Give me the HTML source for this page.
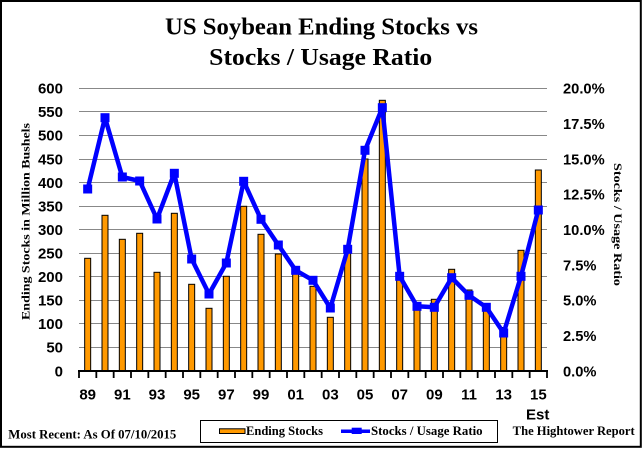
<!DOCTYPE html>
<html><head><meta charset="utf-8"><style>
html,body{margin:0;padding:0;background:#fff;}
svg{display:block;}
.t{font-family:"Liberation Serif",serif;font-weight:bold;fill:#000;}
.n{font-family:"Liberation Sans",sans-serif;font-weight:bold;fill:#000;font-size:15px;}
</style></head><body>
<svg width="644" height="450" viewBox="0 0 644 450" xmlns="http://www.w3.org/2000/svg">
<rect x="0" y="0" width="644" height="450" fill="#fff"/>
<rect x="1" y="1" width="639.8" height="445.8" fill="none" stroke="#000" stroke-width="2"/>
<text class="t" x="321.5" y="34.3" font-size="24" text-anchor="middle" textLength="313" lengthAdjust="spacingAndGlyphs">US Soybean Ending Stocks vs</text>
<text class="t" x="320.7" y="65" font-size="24" text-anchor="middle" textLength="223" lengthAdjust="spacingAndGlyphs">Stocks / Usage Ratio</text>
<g stroke="#888" stroke-width="1">
<line x1="79" x2="547" y1="88.5" y2="88.5"/><line x1="79" x2="547" y1="111.5" y2="111.5"/><line x1="79" x2="547" y1="135.5" y2="135.5"/><line x1="79" x2="547" y1="159.5" y2="159.5"/><line x1="79" x2="547" y1="182.5" y2="182.5"/><line x1="79" x2="547" y1="206.5" y2="206.5"/><line x1="79" x2="547" y1="229.5" y2="229.5"/><line x1="79" x2="547" y1="253.5" y2="253.5"/><line x1="79" x2="547" y1="276.5" y2="276.5"/><line x1="79" x2="547" y1="300.5" y2="300.5"/><line x1="79" x2="547" y1="323.5" y2="323.5"/><line x1="79" x2="547" y1="347.5" y2="347.5"/>
</g>
<g fill="#FF9900" stroke="#000" stroke-width="1">
<rect x="84.67" y="258.3" width="6" height="112.7"/>
<rect x="102" y="215.3" width="6" height="155.7"/>
<rect x="119.33" y="239.3" width="6" height="131.7"/>
<rect x="136.67" y="233.3" width="6" height="137.7"/>
<rect x="154" y="272.3" width="6" height="98.7"/>
<rect x="171.33" y="213.3" width="6" height="157.7"/>
<rect x="188.67" y="284.3" width="6" height="86.7"/>
<rect x="206" y="308.3" width="6" height="62.7"/>
<rect x="223.33" y="276.3" width="6" height="94.7"/>
<rect x="240.67" y="206.3" width="6" height="164.7"/>
<rect x="258" y="234.3" width="6" height="136.7"/>
<rect x="275.33" y="254" width="6" height="117"/>
<rect x="292.67" y="272.7" width="6" height="98.3"/>
<rect x="310" y="286.3" width="6" height="84.7"/>
<rect x="327.33" y="317.3" width="6" height="53.7"/>
<rect x="344.67" y="250.5" width="6" height="120.5"/>
<rect x="362" y="159" width="6" height="212"/>
<rect x="379.33" y="100.3" width="6" height="270.7"/>
<rect x="396.67" y="274.5" width="6" height="96.5"/>
<rect x="414" y="306" width="6" height="65"/>
<rect x="431.33" y="299.3" width="6" height="71.7"/>
<rect x="448.67" y="269.3" width="6" height="101.7"/>
<rect x="466" y="290" width="6" height="81"/>
<rect x="483.33" y="304.5" width="6" height="66.5"/>
<rect x="500.67" y="327.5" width="6" height="43.5"/>
<rect x="518" y="250.3" width="6" height="120.7"/>
<rect x="535.33" y="170" width="6" height="201"/>
</g>
<line x1="78" x2="548" y1="371" y2="371" stroke="#000" stroke-width="2"/>
<g stroke="#000" stroke-width="1.8">
<line x1="79" x2="79" y1="371" y2="378"/><line x1="96.33" x2="96.33" y1="371" y2="378"/><line x1="113.67" x2="113.67" y1="371" y2="378"/><line x1="131" x2="131" y1="371" y2="378"/><line x1="148.33" x2="148.33" y1="371" y2="378"/><line x1="165.67" x2="165.67" y1="371" y2="378"/><line x1="183" x2="183" y1="371" y2="378"/><line x1="200.33" x2="200.33" y1="371" y2="378"/><line x1="217.67" x2="217.67" y1="371" y2="378"/><line x1="235" x2="235" y1="371" y2="378"/><line x1="252.33" x2="252.33" y1="371" y2="378"/><line x1="269.67" x2="269.67" y1="371" y2="378"/><line x1="287" x2="287" y1="371" y2="378"/><line x1="304.33" x2="304.33" y1="371" y2="378"/><line x1="321.67" x2="321.67" y1="371" y2="378"/><line x1="339" x2="339" y1="371" y2="378"/><line x1="356.33" x2="356.33" y1="371" y2="378"/><line x1="373.67" x2="373.67" y1="371" y2="378"/><line x1="391" x2="391" y1="371" y2="378"/><line x1="408.33" x2="408.33" y1="371" y2="378"/><line x1="425.67" x2="425.67" y1="371" y2="378"/><line x1="443" x2="443" y1="371" y2="378"/><line x1="460.33" x2="460.33" y1="371" y2="378"/><line x1="477.67" x2="477.67" y1="371" y2="378"/><line x1="495" x2="495" y1="371" y2="378"/><line x1="512.33" x2="512.33" y1="371" y2="378"/><line x1="529.67" x2="529.67" y1="371" y2="378"/><line x1="547" x2="547" y1="371" y2="378"/>
</g>
<polyline fill="none" stroke="#0000FF" stroke-width="4.5" stroke-linejoin="round" points="87.67,189 105,117.7 122.33,177 139.67,181 157,219 174.33,173.3 191.67,259 209,294 226.33,263 243.67,181.3 261,219.3 278.33,245 295.67,270.3 313,280.3 330.33,308 347.67,249.3 365,150.3 382.33,107.7 399.67,276.3 417,306.3 434.33,307.3 451.67,277.7 469,295.3 486.33,307.3 503.67,333 521,276.3 538.33,210"/>
<g fill="#0000FF">
<rect x="83.17" y="184.5" width="9" height="9"/><rect x="100.5" y="113.2" width="9" height="9"/><rect x="117.83" y="172.5" width="9" height="9"/><rect x="135.17" y="176.5" width="9" height="9"/><rect x="152.5" y="214.5" width="9" height="9"/><rect x="169.83" y="168.8" width="9" height="9"/><rect x="187.17" y="254.5" width="9" height="9"/><rect x="204.5" y="289.5" width="9" height="9"/><rect x="221.83" y="258.5" width="9" height="9"/><rect x="239.17" y="176.8" width="9" height="9"/><rect x="256.5" y="214.8" width="9" height="9"/><rect x="273.83" y="240.5" width="9" height="9"/><rect x="291.17" y="265.8" width="9" height="9"/><rect x="308.5" y="275.8" width="9" height="9"/><rect x="325.83" y="303.5" width="9" height="9"/><rect x="343.17" y="244.8" width="9" height="9"/><rect x="360.5" y="145.8" width="9" height="9"/><rect x="377.83" y="103.2" width="9" height="9"/><rect x="395.17" y="271.8" width="9" height="9"/><rect x="412.5" y="301.8" width="9" height="9"/><rect x="429.83" y="302.8" width="9" height="9"/><rect x="447.17" y="273.2" width="9" height="9"/><rect x="464.5" y="290.8" width="9" height="9"/><rect x="481.83" y="302.8" width="9" height="9"/><rect x="499.17" y="328.5" width="9" height="9"/><rect x="516.5" y="271.8" width="9" height="9"/><rect x="533.83" y="205.5" width="9" height="9"/>
</g>
<g class="n" text-anchor="end">
<text x="63" y="93.6">600</text><text x="63" y="117.2">550</text><text x="63" y="140.7">500</text><text x="63" y="164.3">450</text><text x="63" y="187.8">400</text><text x="63" y="211.4">350</text><text x="63" y="235">300</text><text x="63" y="258.5">250</text><text x="63" y="282.1">200</text><text x="63" y="305.6">150</text><text x="63" y="329.2">100</text><text x="63" y="352.7">50</text><text x="63" y="376.3">0</text>
</g>
<g class="n" text-anchor="start" style="font-size:14.7px">
<text x="563" y="93.6">20.0%</text><text x="563" y="128.9">17.5%</text><text x="563" y="164.3">15.0%</text><text x="563" y="199.6">12.5%</text><text x="563" y="235">10.0%</text><text x="563" y="270.3">7.5%</text><text x="563" y="305.6">5.0%</text><text x="563" y="341">2.5%</text><text x="563" y="376.3">0.0%</text>
</g>
<g class="n" text-anchor="middle">
<text x="87.67" y="399.5">89</text><text x="122.33" y="399.5">91</text><text x="157" y="399.5">93</text><text x="191.67" y="399.5">95</text><text x="226.33" y="399.5">97</text><text x="261" y="399.5">99</text><text x="295.67" y="399.5">01</text><text x="330.33" y="399.5">03</text><text x="365" y="399.5">05</text><text x="399.67" y="399.5">07</text><text x="434.33" y="399.5">09</text><text x="469" y="399.5">11</text><text x="503.67" y="399.5">13</text><text x="538.33" y="399.5">15</text>
<text x="537.7" y="419.5">Est</text>
</g>
<text class="t" font-size="12" text-anchor="middle" transform="translate(29.3,221.5) rotate(-90)" x="0" y="0" textLength="197" lengthAdjust="spacingAndGlyphs">Ending Stocks in Million Bushels</text>
<text class="t" font-size="12" text-anchor="middle" transform="translate(614,224.5) rotate(90)" x="0" y="0" textLength="123" lengthAdjust="spacingAndGlyphs">Stocks / Usage Ratio</text>
<rect x="200.5" y="420.5" width="297" height="22" fill="none" stroke="#000" stroke-width="1"/>
<rect x="219.5" y="428.8" width="25.5" height="4.7" fill="#FF9900" stroke="#000" stroke-width="1"/>
<text class="t" font-size="12.5" x="246" y="435" textLength="77" lengthAdjust="spacingAndGlyphs">Ending Stocks</text>
<line x1="341" x2="370" y1="431.2" y2="431.2" stroke="#0000FF" stroke-width="3.5"/>
<rect x="351.7" y="427.7" width="10" height="6.3" fill="#0000FF"/>
<text class="t" font-size="12.5" x="371" y="435" textLength="111.6" lengthAdjust="spacingAndGlyphs">Stocks / Usage Ratio</text>
<text class="t" font-size="12.5" x="8.3" y="438.3" textLength="168" lengthAdjust="spacingAndGlyphs">Most Recent: As Of 07/10/2015</text>
<text class="t" font-size="12.5" x="512.7" y="435" textLength="122" lengthAdjust="spacingAndGlyphs">The Hightower Report</text>
</svg>
</body></html>
